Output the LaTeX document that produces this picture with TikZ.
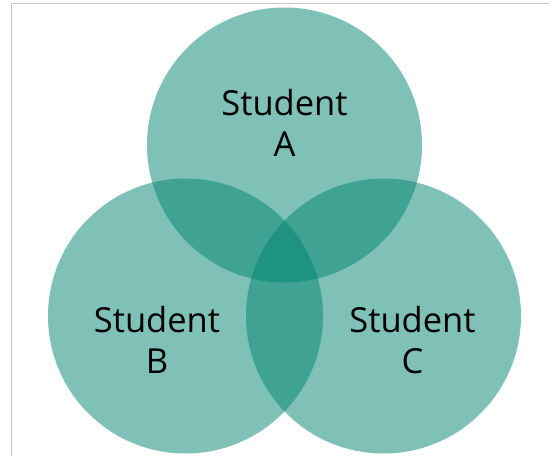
\documentclass[tikz,border=0pt]{standalone}
\usepackage{fontspec}
\setmainfont{Open Sans}
\definecolor{venn}{RGB}{0,132,112}

\begin{document}
\begin{tikzpicture}[x=1pt,y=-1pt,
              set/.style={circle,fill=venn,fill opacity=0.5,
              minimum size=275pt,inner sep=0pt},
              studtext/.style={align=center,inner sep=0pt,
              font=\fontsize{34.5}{41}\selectfont}]
    \useasboundingbox (0,0) rectangle (549,456);
    \draw [black!22,line width=1.2pt] (11.5,456) -- (11.5,3.5) -- (549,3.5);

    \node [set] (a) at (284.5,145) {};
    \node [set] (b) at (185.5,316) {};
    \node [set] (c) at (383.5,316) {};

    \node [studtext] (ta) at (284.5,123) {Student\\A};
    \node [studtext] (tb) at (157,340) {Student\\B};
    \node [studtext] (tc) at (412.5,340) {Student\\C};
\end{tikzpicture}
\end{document}
